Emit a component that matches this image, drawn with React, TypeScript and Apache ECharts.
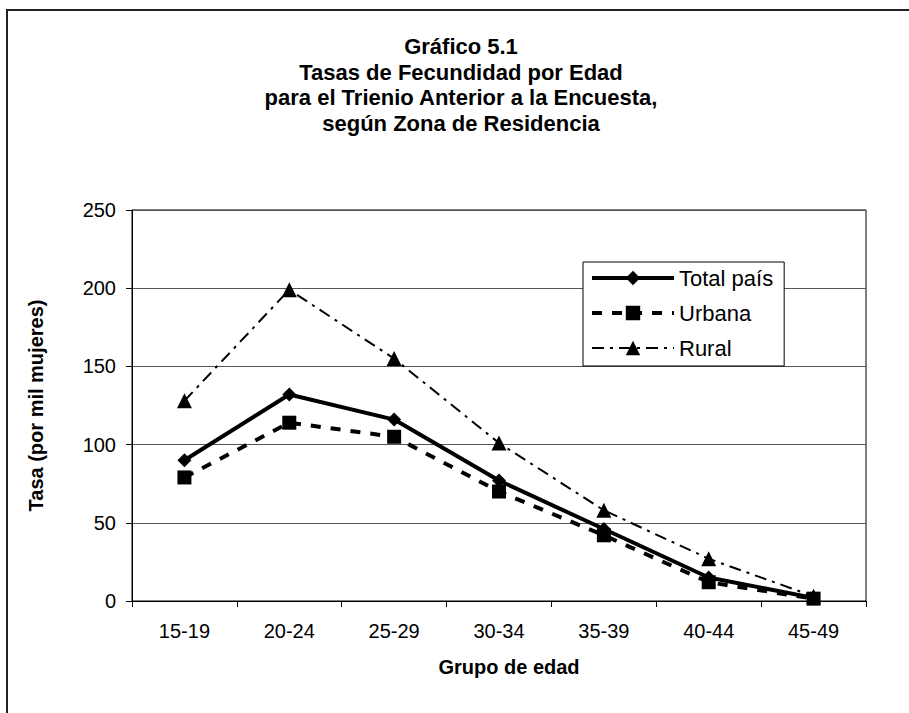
import React, { useEffect, useRef } from "react";
import * as echarts from "echarts";

const categories = ["15-19", "20-24", "25-29", "30-34", "35-39", "40-44", "45-49"];
const totalPais = [90, 132, 116, 77, 46, 15, 2];
const urbana = [79, 114, 105, 70, 42, 12, 1.5];
const rural = [128, 199, 155, 101, 58, 27, 3];
const titleLines = [
  "Gráfico 5.1",
  "Tasas de Fecundidad por Edad",
  "para el Trienio Anterior a la Encuesta,",
  "según Zona de Residencia",
];

const FONT = 'Arial, "Liberation Sans", sans-serif';

export default function App() {
  const ref = useRef<HTMLDivElement>(null);
  useEffect(() => {
    if (!ref.current) return;
    const chart = echarts.init(ref.current, undefined, { renderer: "svg" });
    chart.setOption({
      animation: false,
      backgroundColor: "#ffffff",
      textStyle: { fontFamily: FONT, color: "#000" },
      graphic: [
        {
          type: "rect",
          shape: { x: 7, y: 10, width: 920, height: 720 },
          style: { fill: "none", stroke: "#222", lineWidth: 2 },
          silent: true,
        },
        {
          type: "text",
          x: 461,
          y: 34,
          style: {
            text: titleLines.join("\n"),
            textAlign: "center",
            fontFamily: FONT,
            fontWeight: "bold",
            fontSize: 22,
            lineHeight: 25.5,
            fill: "#000",
          },
        },
      ],
      grid: {
        left: 132,
        right: 43,
        top: 210,
        bottom: 112,
        show: true,
        borderColor: "#000",
        borderWidth: 1,
        backgroundColor: "transparent",
      },
      legend: {
        left: 583,
        top: 262,
        orient: "vertical",
        padding: [4, 11, 6, 7],
        itemGap: 11,
        itemWidth: 82,
        itemHeight: 18,
        backgroundColor: "#fff",
        borderColor: "#000",
        borderWidth: 1,
        borderRadius: 0,
        textStyle: { fontFamily: FONT, fontSize: 22, color: "#000", lineHeight: 24 },
        data: [
          { name: "Total país", lineStyle: { width: 4, color: "#000", type: "solid" } },
          { name: "Urbana", lineStyle: { width: 4, color: "#000", type: [10, 10] } },
          { name: "Rural", lineStyle: { width: 2, color: "#000", type: [12, 6, 3, 6] } },
        ],
      },
      xAxis: {
        type: "category",
        data: categories,
        boundaryGap: true,
        axisLine: { show: true, lineStyle: { color: "#000", width: 1 } },
        axisTick: { show: true, length: 6, inside: false, lineStyle: { color: "#000" } },
        axisLabel: { fontFamily: FONT, fontSize: 20, color: "#000", margin: 20 },
        name: "Grupo de edad",
        nameLocation: "middle",
        nameGap: 56,
        nameTextStyle: {
          fontFamily: FONT,
          fontSize: 20,
          fontWeight: "bold",
          color: "#000",
          padding: [0, 0, 0, 20],
        },
      },
      yAxis: {
        type: "value",
        min: 0,
        max: 250,
        interval: 50,
        axisLine: { show: true, lineStyle: { color: "#000", width: 1 } },
        axisTick: { show: true, length: 6, inside: false, lineStyle: { color: "#000" } },
        axisLabel: { fontFamily: FONT, fontSize: 20, color: "#000", margin: 16 },
        splitLine: { show: true, lineStyle: { color: "#555", width: 1 } },
        name: "Tasa (por mil mujeres)",
        nameLocation: "middle",
        nameGap: 86,
        nameTextStyle: { fontFamily: FONT, fontSize: 20, fontWeight: "bold", color: "#000" },
      },
      series: [
        {
          name: "Rural",
          type: "line",
          data: rural,
          symbol: "triangle",
          symbolSize: 15,
          itemStyle: { color: "#000" },
          lineStyle: { color: "#000", width: 2, type: [12, 6, 3, 6] },
          z: 2,
        },
        {
          name: "Urbana",
          type: "line",
          data: urbana,
          symbol: "rect",
          symbolSize: 14,
          itemStyle: { color: "#000" },
          lineStyle: { color: "#000", width: 4, type: [10, 10] },
          z: 3,
        },
        {
          name: "Total país",
          type: "line",
          data: totalPais,
          symbol: "diamond",
          symbolSize: 14,
          itemStyle: { color: "#000" },
          lineStyle: { color: "#000", width: 4, type: "solid" },
          z: 4,
        },
      ],
    });
    return () => chart.dispose();
  }, []);
  return (
    <div
      ref={ref}
      style={{ position: "fixed", left: 0, top: 0, width: 909, height: 713 }}
    />
  );
}
